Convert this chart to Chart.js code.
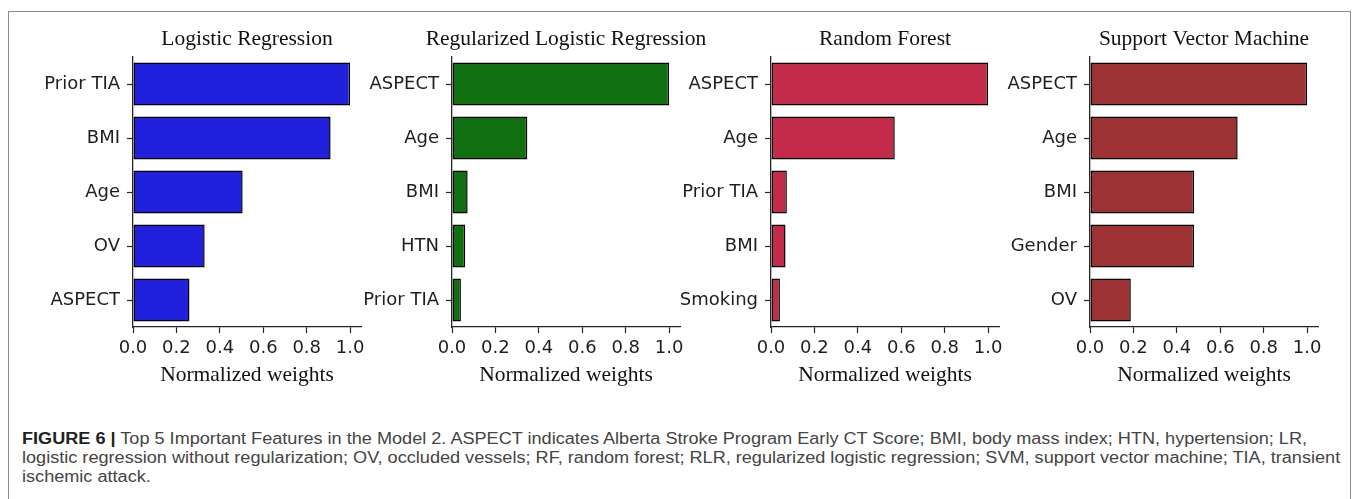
<!DOCTYPE html>
<html>
<head>
<meta charset="utf-8">
<script src="https://cdn.jsdelivr.net/npm/chart.js@4.4.1/dist/chart.umd.min.js"></script>
<style>
  html, body { margin: 0; padding: 0; background: #fff; }
  body { width: 1358px; height: 499px; position: relative; overflow: hidden; }
  #frame {
    position: absolute; left: 8px; top: 11px; width: 1343px; height: 520px;
    border: 1px solid #8c8c8c; border-bottom: none; box-sizing: border-box;
  }
  .panel { position: absolute; top: 0; width: 384px; height: 397px; }
  #caption {
    position: absolute; left: 22px; top: 429px;
    font-family: "Liberation Sans", Arial, sans-serif; font-size: 16px;
    line-height: 19px; color: #444; white-space: nowrap;
  }
  #caption .line { display: block; transform-origin: 0 0; }
  #caption b { color: #222; }
</style>
</head>
<body>
<div id="frame"></div>
<canvas id="c0" class="panel" width="384" height="397" style="left:8px"></canvas>
<canvas id="c1" class="panel" width="384" height="397" style="left:327px"></canvas>
<canvas id="c2" class="panel" width="384" height="397" style="left:646px"></canvas>
<canvas id="c3" class="panel" width="384" height="397" style="left:965px"></canvas>
<div id="caption">
  <span class="line"><b>FIGURE 6 |</b> Top 5 Important Features in the Model 2. ASPECT indicates Alberta Stroke Program Early CT Score; BMI, body mass index; HTN, hypertension; LR,</span>
  <span class="line">logistic regression without regularization; OV, occluded vessels; RF, random forest; RLR, regularized logistic regression; SVM, support vector machine; TIA, transient</span>
  <span class="line">ischemic attack.</span>
</div>
<script>
// Model titles
const modelTitles = ['Logistic Regression', 'Regularized Logistic Regression', 'Random Forest', 'Support Vector Machine'];

// Top-5 features per model (top to bottom)
const lrFeatures  = ['Prior TIA', 'BMI', 'Age', 'OV', 'ASPECT'];
const rlrFeatures = ['ASPECT', 'Age', 'BMI', 'HTN', 'Prior TIA'];
const rfFeatures  = ['ASPECT', 'Age', 'Prior TIA', 'BMI', 'Smoking'];
const svmFeatures = ['ASPECT', 'Age', 'BMI', 'Gender', 'OV'];

// Normalized weights
const lrWeights  = [1.0, 0.91, 0.505, 0.33, 0.26];
const rlrWeights = [1.0, 0.347, 0.072, 0.061, 0.041];
const rfWeights  = [1.0, 0.57, 0.073, 0.067, 0.041];
const svmWeights = [1.0, 0.68, 0.479, 0.479, 0.188];

// Bar fill colours
const barColors = ['#2020DD', '#107010', '#C22B4A', '#9D3234'];

// Shared x-axis ticks
const weightTicks = [0.0, 0.2, 0.4, 0.6, 0.8, 1.0];
const axisTitle = 'Normalized weights';

const panels = [
  { features: lrFeatures,  weights: lrWeights },
  { features: rlrFeatures, weights: rlrWeights },
  { features: rfFeatures,  weights: rfWeights },
  { features: svmFeatures, weights: svmWeights }
];

const ink = '#1e1e1e';
const spine = { display: true, color: '#262626', width: 1.3 };
const serif = '"Liberation Serif", "Times New Roman", serif';

// Axes title centred over the plot area, allowed to run past its edges
const panelTitle = {
  id: 'panelTitle',
  afterDraw(chart, args, opts) {
    const { ctx, chartArea } = chart;
    ctx.save();
    ctx.font = '21.5px ' + serif;
    ctx.fillStyle = '#111';
    ctx.textAlign = 'center';
    ctx.textBaseline = 'alphabetic';
    ctx.fillText(opts.text, (chartArea.left + chartArea.right) / 2, opts.baseline);
    ctx.restore();
  }
};

panels.forEach((p, i) => {
  new Chart(document.getElementById('c' + i), {
    type: 'bar',
    data: {
      labels: p.features,
      datasets: [{
        data: p.weights,
        backgroundColor: barColors[i],
        borderColor: '#000',
        borderWidth: 1.5,
        borderSkipped: false,
        barPercentage: 0.8,
        categoryPercentage: 1.0
      }]
    },
    plugins: [panelTitle],
    options: {
      indexAxis: 'y',
      responsive: false,
      maintainAspectRatio: false,
      animation: false,
      devicePixelRatio: 1,
      layout: { padding: { top: 57, right: 31, bottom: 0, left: 0 } },
      plugins: {
        legend: { display: false },
        tooltip: { enabled: false },
        title: { display: false },
        panelTitle: { text: modelTitles[i], baseline: 45 }
      },
      scales: {
        x: {
          type: 'linear',
          min: 0,
          max: 1.05,
          border: spine,
          grid: { drawOnChartArea: false, drawTicks: true, tickLength: 6, color: '#262626', tickWidth: 1.2 },
          afterBuildTicks: (s) => { s.ticks = weightTicks.map(v => ({ value: v })); },
          afterFit: (s) => { s.height = 70; },
          ticks: {
            color: ink,
            padding: 5,
            font: { family: '"DejaVu Sans", sans-serif', size: 18 },
            callback: (v) => Number(v).toFixed(1)
          },
          title: {
            display: true,
            text: axisTitle,
            color: '#111',
            font: { family: serif, size: 21.5 },
            padding: { top: 0, bottom: 9 }
          }
        },
        y: {
          type: 'category',
          offset: true,
          border: spine,
          grid: { offset: false, drawOnChartArea: false, drawTicks: true, tickLength: 6, color: '#262626', tickWidth: 1.2 },
          afterFit: (s) => { s.width = 125; },
          ticks: {
            color: ink,
            padding: 7,
            autoSkip: false,
            font: { family: '"DejaVu Sans", sans-serif', size: 18 }
          }
        }
      }
    }
  });
});

// Condense the caption lines to the column width
(document.fonts ? document.fonts.ready : Promise.resolve()).then(() => {
  const lines = document.querySelectorAll('#caption .line');
  const first = lines[0];
  first.style.display = 'inline-block';
  const w = first.getBoundingClientRect().width;
  first.style.display = 'block';
  const k = 1285 / w;
  lines.forEach(l => { l.style.transform = 'scaleX(' + k + ')'; });
});
</script>
</body>
</html>
